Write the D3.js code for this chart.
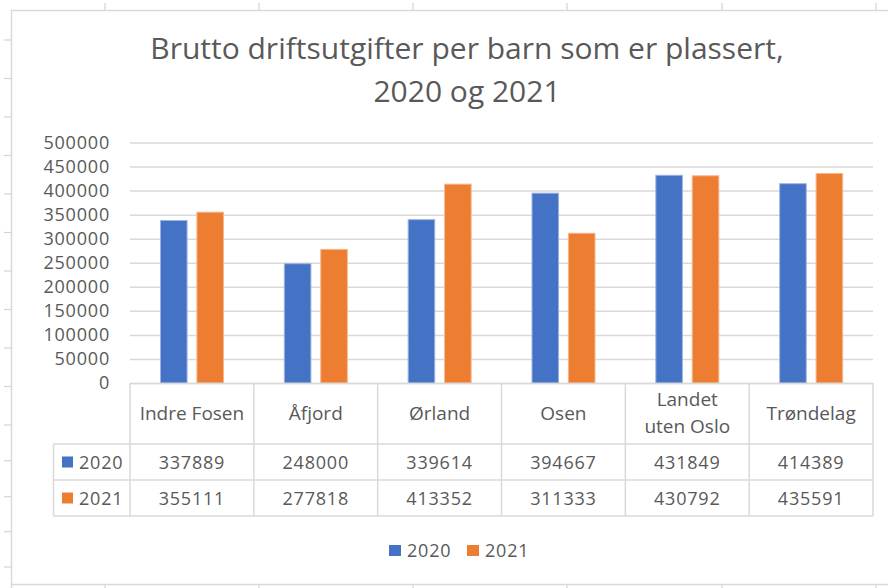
<!DOCTYPE html>
<html>
<head>
<meta charset="utf-8">
<script src="https://cdn.jsdelivr.net/npm/d3@7"></script>
<style>
  body { margin: 0; background: #fff; }
  text { font-family: "Open Sans", sans-serif; fill: #595959; }
</style>
</head>
<body>
<div id="chart"></div>
<script>
var width = 888, height = 588;

// data
var categories = ["Indre Fosen", "Åfjord", "Ørland", "Osen", "Landet uten Oslo", "Trøndelag"];
var categoryLines = [["Indre Fosen"], ["Åfjord"], ["Ørland"], ["Osen"], ["Landet", "uten Oslo"], ["Trøndelag"]];
var series = ["2020", "2021"];
var values2020 = [337889, 248000, 339614, 394667, 431849, 414389];
var values2021 = [355111, 277818, 413352, 311333, 430792, 435591];
var seriesColors = ["#4472C4", "#ED7D31"];
var seriesStroke = ["#9db4e2", "#f6b78d"];

var rows = series.map(function(s, i) {
  return {name: s, values: i == 0 ? values2020 : values2021, color: seriesColors[i], stroke: seriesStroke[i]};
});

var svg = d3.select('#chart')
            .append('svg')
            .attr('width', width)
            .attr('height', height);

// spreadsheet cell marks behind the chart
var gridCol = '#d4d4d4';
[40, 78.5, 117, 155.5, 194, 232.5, 271, 309.5, 348, 386.5, 425, 460.7, 496.7, 531.7, 567].forEach(function(yy) {
  svg.append('line').attr('x1', 4).attr('x2', 11).attr('y1', yy).attr('y2', yy)
     .attr('stroke', gridCol).attr('stroke-width', 1.2);
});
[105, 259, 413, 567, 722, 876].forEach(function(xx) {
  svg.append('line').attr('x1', xx).attr('x2', xx).attr('y1', 3).attr('y2', 10)
     .attr('stroke', gridCol).attr('stroke-width', 1.2);
  svg.append('line').attr('x1', xx).attr('x2', xx).attr('y1', 585).attr('y2', 588)
     .attr('stroke', gridCol).attr('stroke-width', 1.2);
});

// chart frame
svg.append('path')
   .attr('d', 'M11.5 592 L11.5 10.5 L892 10.5')
   .attr('fill', 'none').attr('stroke', '#d9d9d9').attr('stroke-width', 1.5);
svg.append('line').attr('x1', 11.5).attr('x2', 892).attr('y1', 584.5).attr('y2', 584.5)
   .attr('stroke', '#d9d9d9').attr('stroke-width', 1.5);

// title
var title = svg.append('text')
   .attr('x', 467)
   .attr('text-anchor', 'middle')
   .style('font-size', '30px');
title.append('tspan').attr('x', 467).attr('y', 59).text('Brutto driftsutgifter per barn som er plassert,');
title.append('tspan').attr('x', 467).attr('y', 102).text('2020 og 2021');

// scales
var plotLeft = 130, plotRight = 873, plotTop = 142.5, plotBottom = 383;

var x0 = d3.scaleBand()
           .domain(categories)
           .range([plotLeft, plotRight]);

var x1 = d3.scaleBand()
           .domain(series)
           .range([30.5, 93.5])
           .paddingInner(0.27);

var y = d3.scaleLinear()
          .domain([0, 500000])
          .range([plotBottom, plotTop]);

// gridlines
var grid = svg.append('g')
   .attr('transform', 'translate(' + plotLeft + ',0)')
   .call(d3.axisLeft(y).ticks(10).tickSize(-(plotRight - plotLeft)).tickFormat(''));
grid.select('.domain').remove();
grid.selectAll('line').attr('stroke', '#d9d9d9').attr('stroke-width', 1.5);

// y axis labels
var yAxis = svg.append('g')
   .attr('transform', 'translate(' + 110 + ',0)')
   .call(d3.axisLeft(y).ticks(10).tickSize(0).tickPadding(0).tickFormat(d3.format('d')));
yAxis.select('.domain').remove();
yAxis.selectAll('text')
   .style('font-size', '18px')
   .style('letter-spacing', '0.8px')
   .attr('fill', '#595959');

// bars
var groups = svg.selectAll('g.cat')
   .data(categories).enter().append('g')
   .attr('class', 'cat')
   .attr('transform', function(d) { return 'translate(' + x0(d) + ',0)'; });

groups.selectAll('rect')
   .data(function(d, i) { return rows.map(function(r) { return {s: r.name, v: r.values[i], color: r.color, stroke: r.stroke}; }); })
   .enter().append('rect')
   .attr('x', function(d) { return x1(d.s); })
   .attr('width', x1.bandwidth())
   .attr('y', function(d) { return y(d.v); })
   .attr('height', function(d) { return plotBottom - y(d.v); })
   .attr('fill', function(d) { return d.color; })
   .attr('stroke', function(d) { return d.stroke; })
   .attr('stroke-width', 1);

// data table
var tableCol = '#d9d9d9';
var headerBottom = 444, row1Bottom = 480, row2Bottom = 516, keyLeft = 53.5;

function hline(x1_, x2_, yy) {
  svg.append('line').attr('x1', x1_).attr('x2', x2_).attr('y1', yy).attr('y2', yy)
     .attr('stroke', tableCol).attr('stroke-width', 1.5);
}
function vline(xx, y1_, y2_) {
  svg.append('line').attr('x1', xx).attr('x2', xx).attr('y1', y1_).attr('y2', y2_)
     .attr('stroke', tableCol).attr('stroke-width', 1.5);
}

hline(plotLeft, plotRight, plotBottom + 0.5);
hline(keyLeft, plotRight, headerBottom);
hline(keyLeft, plotRight, row1Bottom);
hline(keyLeft, plotRight, row2Bottom);
vline(keyLeft, headerBottom, row2Bottom);
categories.forEach(function(c) { vline(x0(c), plotBottom, row2Bottom); });
vline(plotRight, plotBottom, row2Bottom);

// header labels
svg.selectAll('text.head')
   .data(categories).enter().append('text')
   .attr('class', 'head')
   .attr('text-anchor', 'middle')
   .style('font-size', '19px')
   .each(function(d, i) {
     var lines = categoryLines[i];
     var cx = x0(d) + x0.bandwidth() / 2;
     var t = d3.select(this);
     lines.forEach(function(l, j) {
       var yy = lines.length == 1 ? 420 : 406 + j * 27;
       t.append('tspan').attr('x', cx).attr('y', yy).text(l);
     });
   });

// value rows
var rowY = [row1Bottom - 11.5, row2Bottom - 11.5];
rows.forEach(function(r, ri) {
  svg.append('rect')
     .attr('x', 62).attr('y', rowY[ri] - 12)
     .attr('width', 11).attr('height', 11)
     .attr('fill', r.color);
  svg.append('text')
     .attr('x', 79).attr('y', rowY[ri])
     .style('font-size', '18px')
     .style('letter-spacing', '0.8px')
     .text(r.name);
  svg.selectAll('text.v' + ri)
     .data(r.values).enter().append('text')
     .attr('class', 'v' + ri)
     .attr('x', function(d, i) { return x0(categories[i]) + x0.bandwidth() / 2; })
     .attr('y', rowY[ri])
     .attr('text-anchor', 'middle')
     .style('font-size', '18px')
     .style('letter-spacing', '0.8px')
     .text(function(d) { return d; });
});

// legend
var legend = svg.selectAll('g.leg')
   .data(rows).enter().append('g')
   .attr('class', 'leg')
   .attr('transform', function(d, i) { return 'translate(' + (389 + i * 78) + ',545)'; });
legend.append('rect')
   .attr('width', 12).attr('height', 11)
   .attr('fill', function(d) { return d.color; });
legend.append('text')
   .attr('x', 18).attr('y', 11.5)
   .style('font-size', '18px')
   .style('letter-spacing', '0.8px')
   .text(function(d) { return d.name; });
</script>
</body>
</html>
